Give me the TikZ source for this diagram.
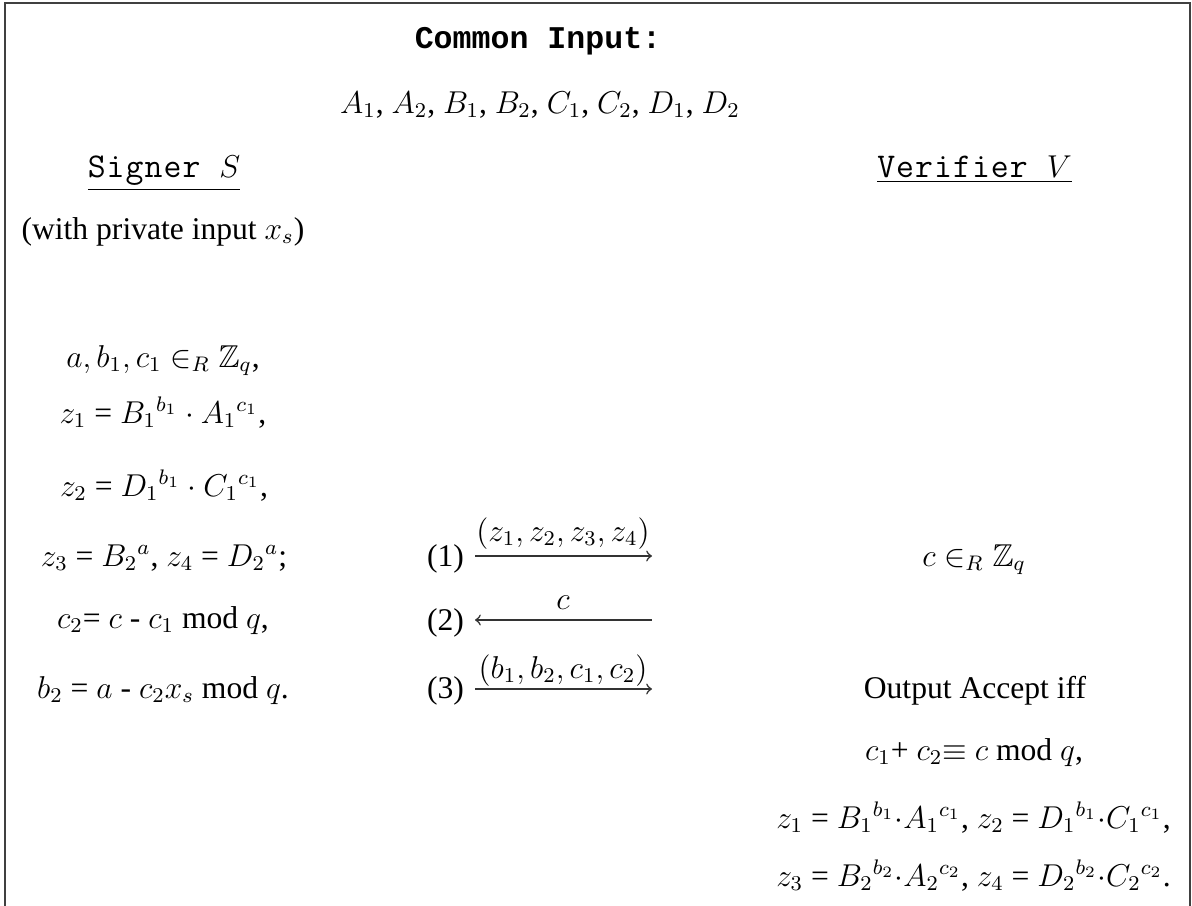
\documentclass[tikz,border=0pt]{standalone}
\usepackage{amssymb}
\usepackage{fontspec}
\setmainfont{Liberation Serif}
\setmonofont{Liberation Mono}
\newfontfamily\thintt{Latin Modern Mono}[Scale=1.1,LetterSpace=3]
\begin{document}
\begin{tikzpicture}[x=0.3798pt,y=-0.3798pt,
  txt/.style={anchor=base,inner sep=0pt,font=\fontsize{12}{14}\selectfont},
  frame/.style={line width=0.6pt,draw=black!75},
  msg/.style={line width=0.6pt,draw=black!80},
  lbl/.style={anchor=base,inner sep=0pt,font=\fontsize{12}{14}\selectfont}]
\useasboundingbox (0,0) rectangle (1192,906);
\draw[frame] (5,906) -- (5,3) -- (1190,3) -- (1190,906);
% header
\node[txt] (ci) at (538,48) {\texttt{\textbf{Common Input:}}};
\node[txt] (inp) at (540,113) {$A_1$, $A_2$, $B_1$, $B_2$, $C_1$, $C_2$, $D_1$, $D_2$};
\node[txt] (signer) at (164,177) {\underline{{\thintt Signer }$S$}};
\node[txt] (verifier) at (974.5,177) {\underline{{\thintt Verifier }$V$}};
\node[txt] (priv) at (163,239) {(with private input $x_s$)};
% signer column
\node[txt] (s1) at (163,367) {$a, b_1, c_1 \in_R \mathbb{Z}_q$,};
\node[txt] (s2) at (163,423) {$z_1$ = $B_1{}^{b_1} \cdot A_1{}^{c_1}$,};
\node[txt] (s3) at (164,496) {$z_2$ = $D_1{}^{b_1} \cdot C_1{}^{c_1}$,};
\node[txt] (s4) at (164,566) {$z_3$ = $B_2{}^a$, $z_4$ = $D_2{}^a$;};
\node[txt] (s5) at (163,628) {$c_2$= $c$ - $c_1$ mod $q$,};
\node[txt] (s6) at (163,698) {$b_2$ = $a$ - $c_2x_s$ mod $q$.};
% messages
\node[txt] (n1) at (445.5,566) {(1)};
\node[txt] (n2) at (445.5,630) {(2)};
\node[txt] (n3) at (445.5,698) {(3)};
\coordinate (m1s) at (475,556); \coordinate (m1e) at (652,556);
\coordinate (m2s) at (475,620); \coordinate (m2e) at (652,620);
\coordinate (m3s) at (475,689); \coordinate (m3e) at (652,689);
\draw[msg,->] (m1s) -- (m1e);
\draw[msg,<-] (m2s) -- (m2e);
\draw[msg,->] (m3s) -- (m3e);
\node[lbl] (l1) at (563,541) {$(z_1, z_2, z_3, z_4)$};
\node[lbl] (l2) at (563,609) {$c$};
\node[lbl] (l3) at (563,678) {$(b_1, b_2, c_1, c_2)$};
% verifier column
\node[txt] (v1) at (974,566) {$c \in_R \mathbb{Z}_q$};
\node[txt] (v2) at (975,698) {Output Accept iff};
\node[txt] (v3) at (974,760) {$c_1$+ $c_2$$\equiv$ $c$ mod $q$,};
\node[txt] (v4) at (973.5,828) {$z_1$ = $B_1{}^{b_1}{\cdot}A_1{}^{c_1}$, $z_2$ = $D_1{}^{b_1}{\cdot}C_1{}^{c_1}$,};
\node[txt] (v5) at (973.5,886) {$z_3$ = $B_2{}^{b_2}{\cdot}A_2{}^{c_2}$, $z_4$ = $D_2{}^{b_2}{\cdot}C_2{}^{c_2}$.};
\end{tikzpicture}
\end{document}
